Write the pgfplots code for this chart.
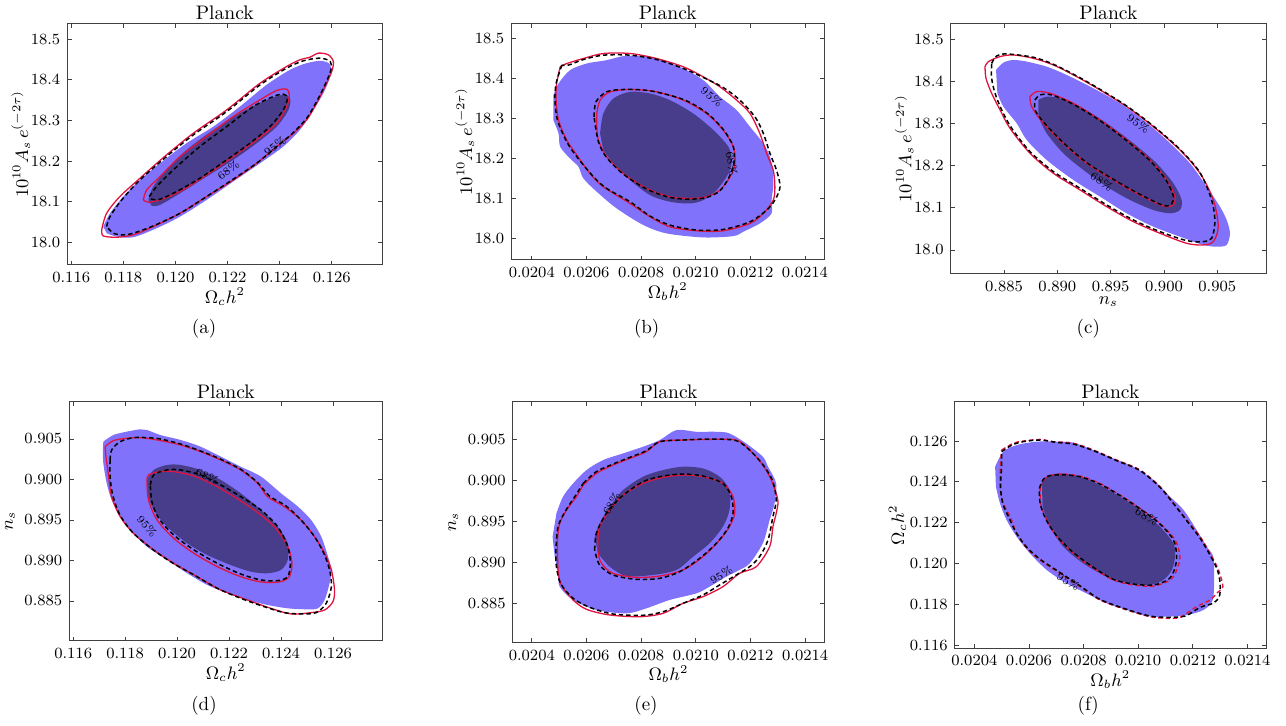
\documentclass[border=0pt]{standalone}
\usepackage{fontspec}
\usepackage{pgfplots}
\pgfplotsset{compat=1.18}

\definecolor{lightc}{RGB}{128,114,250}
\definecolor{darkc}{RGB}{72,61,139}
\definecolor{redc}{RGB}{225,20,65}

\tikzset{
  lf/.style={fill=lightc, draw=none, smooth, tension=0.5},
  df/.style={fill=darkc, draw=none, smooth, tension=0.5},
  rl/.style={draw=redc, line width=0.65pt, smooth, tension=0.5},
  bl/.style={draw=black, line width=0.75pt, dash pattern=on 2.2pt off 1.5pt, smooth, tension=0.5},
  rd/.style={draw=redc, line width=0.7pt, dash pattern=on 2.2pt off 1.5pt, smooth, tension=0.5},
  clab/.style={font=\fontsize{5.5}{6}\selectfont, inner sep=0pt},
  ttl/.style={font=\fontsize{9.8}{11}\selectfont, anchor=base},
  subcap/.style={font=\fontsize{9.5}{11}\selectfont, anchor=base},
}
\pgfplotsset{
  panel/.style={
    scale only axis, anchor=south west,
    scaled x ticks=false, scaled y ticks=false,
    tick align=inside, tick pos=both, major tick length=2.2pt,
    axis line style={black!75, line width=0.5pt},
    tick style={black!75, line width=0.4pt},
    tick label style={font=\fontsize{7.8}{9}\selectfont},
    label style={font=\fontsize{8.6}{10}\selectfont},
    xlabel style={yshift=4.5pt},
    ylabel style={yshift=-2pt},
  },
  aslab/.style={ylabel={$10^{10}A_s\,e^{(-2\tau)}$}, ylabel style={yshift=-4.5pt}},
}

\begin{document}
\begin{tikzpicture}
\useasboundingbox (0,0) rectangle (643pt,363pt);

% ---------------- (a)
\begin{axis}[panel, aslab, at={(33.65pt,230.5pt)}, width=157.5pt, height=120.85pt,
  xmin=0.11585, xmax=0.12794, ymin=17.944, ymax=18.539,
  xtick={0.116,0.118,0.120,0.122,0.124,0.126},
  xticklabels={0.116,0.118,0.120,0.122,0.124,0.126},
  ytick={18.0,18.1,18.2,18.3,18.4,18.5},
  yticklabels={18.0,18.1,18.2,18.3,18.4,18.5},
  xlabel={$\Omega_c h^2$}]
\addplot[lf] coordinates {(0.11723,18.0386)(0.11749,18.0714)(0.118,18.1125)(0.11864,18.1535)(0.11941,18.1946)(0.12043,18.2438)(0.12146,18.2849)(0.12248,18.3342)(0.12350,18.3875)(0.12440,18.4245)(0.12504,18.4409)(0.12562,18.4466)(0.12594,18.4368)(0.12594,18.4080)(0.12568,18.3670)(0.12530,18.3259)(0.12478,18.2767)(0.12414,18.2356)(0.12325,18.1946)(0.12222,18.1494)(0.12120,18.1043)(0.12018,18.0632)(0.11928,18.0345)(0.11838,18.0123)(0.11774,18.0140)(0.11736,18.0222)};
\addplot[df] coordinates {(0.11896,18.1043)(0.11915,18.1371)(0.11966,18.1782)(0.12043,18.2274)(0.12146,18.2767)(0.12248,18.3177)(0.12350,18.3506)(0.12414,18.3629)(0.12440,18.3547)(0.12434,18.3259)(0.12389,18.2849)(0.12312,18.2438)(0.12222,18.2028)(0.12120,18.1617)(0.12018,18.1207)(0.11941,18.0920)(0.11909,18.0895)};
\addplot[rl] coordinates {(0.11717,18.0304)(0.11736,18.0714)(0.11787,18.1125)(0.11864,18.1576)(0.11966,18.2151)(0.12069,18.2685)(0.12197,18.3259)(0.12325,18.3916)(0.12427,18.4327)(0.12478,18.4491)(0.12517,18.4557)(0.12549,18.4655)(0.12587,18.4614)(0.12606,18.4450)(0.12600,18.4204)(0.12574,18.3834)(0.12542,18.3424)(0.12504,18.3013)(0.12453,18.2685)(0.12389,18.2356)(0.12312,18.1946)(0.12222,18.1535)(0.12120,18.1125)(0.12018,18.0714)(0.11915,18.0386)(0.11838,18.0181)(0.11774,18.0123)(0.11723,18.0156)(0.11717,18.0304)};
\addplot[rl] coordinates {(0.11877,18.1043)(0.11890,18.1289)(0.11941,18.1617)(0.12018,18.2110)(0.12120,18.2603)(0.12222,18.3095)(0.12325,18.3506)(0.12389,18.3736)(0.12427,18.3768)(0.12437,18.3629)(0.12427,18.3342)(0.12389,18.2931)(0.12312,18.2521)(0.12222,18.2110)(0.12120,18.1658)(0.12018,18.1248)(0.11941,18.1043)(0.11896,18.0985)(0.11877,18.1043)};
\addplot[bl] coordinates {(0.11736,18.0386)(0.11749,18.0632)(0.11794,18.1043)(0.11864,18.1535)(0.11966,18.2110)(0.12069,18.2644)(0.12197,18.3218)(0.12325,18.3875)(0.12427,18.4286)(0.12491,18.4466)(0.12555,18.4532)(0.12594,18.4450)(0.12597,18.4245)(0.12574,18.3875)(0.12542,18.3465)(0.12504,18.3054)(0.12453,18.2701)(0.12389,18.2356)(0.12312,18.1946)(0.12222,18.1552)(0.12120,18.1125)(0.12018,18.0714)(0.11915,18.0402)(0.11838,18.0222)(0.11800,18.0181)(0.11762,18.0222)(0.11736,18.0386)};
\addplot[bl] coordinates {(0.11900,18.1125)(0.11928,18.1371)(0.11992,18.1782)(0.12094,18.2356)(0.12197,18.2849)(0.12299,18.3342)(0.12376,18.3588)(0.12414,18.3645)(0.12430,18.3547)(0.12414,18.3259)(0.12363,18.2849)(0.12286,18.2438)(0.12197,18.2028)(0.12094,18.1576)(0.12005,18.1248)(0.11941,18.1059)(0.11909,18.1059)(0.11900,18.1125)};
\node[clab, rotate=37] at (axis cs:0.12203,18.178) {68\%};
\node[clab, rotate=37] at (axis cs:0.12382,18.2356) {95\%};
\end{axis}

% ---------------- (b)
\begin{axis}[panel, aslab, at={(255.65pt,233pt)}, width=156.5pt, height=118.35pt,
  xmin=0.020325, xmax=0.021471, ymin=17.946, ymax=18.539,
  xtick={0.0204,0.0206,0.0208,0.0210,0.0212,0.0214},
  xticklabels={0.0204,0.0206,0.0208,0.0210,0.0212,0.0214},
  ytick={18.0,18.1,18.2,18.3,18.4,18.5},
  yticklabels={18.0,18.1,18.2,18.3,18.4,18.5},
  xlabel={$\Omega_b h^2$}]
\addplot[lf] coordinates {(0.020479,18.3589)(0.020498,18.3881)(0.020540,18.4215)(0.020601,18.4382)(0.020674,18.4466)(0.020735,18.4566)(0.020809,18.4566)(0.020882,18.4449)(0.020955,18.4257)(0.021028,18.3965)(0.021089,18.3548)(0.021150,18.3214)(0.021199,18.2796)(0.021248,18.2379)(0.021272,18.2045)(0.021284,18.1628)(0.021284,18.1294)(0.021278,18.0960)(0.021278,18.0626)(0.021235,18.0376)(0.021174,18.0167)(0.021138,18.0058)(0.021028,18.0025)(0.020894,18.0125)(0.020809,18.0334)(0.020711,18.0751)(0.020638,18.1169)(0.020589,18.1503)(0.020571,18.1795)(0.020540,18.2003)(0.020504,18.2295)(0.020498,18.2629)(0.020479,18.2963)};
\addplot[df] coordinates {(0.020650,18.2629)(0.020662,18.3130)(0.020699,18.3506)(0.020760,18.3673)(0.020833,18.3631)(0.020906,18.3464)(0.020991,18.3130)(0.021065,18.2713)(0.021120,18.2295)(0.021132,18.1962)(0.021120,18.1628)(0.021077,18.1210)(0.021028,18.0960)(0.020979,18.0876)(0.020906,18.0918)(0.020833,18.1085)(0.020760,18.1461)(0.020699,18.1878)(0.020662,18.2212)};
\addplot[rl] coordinates {(0.020504,18.4299)(0.020491,18.3881)(0.020489,18.3464)(0.020498,18.2963)(0.020528,18.2462)(0.020565,18.2087)(0.020613,18.1628)(0.020662,18.1294)(0.020760,18.0876)(0.020833,18.0543)(0.020906,18.0292)(0.021004,18.0192)(0.021101,18.0192)(0.021199,18.0376)(0.021248,18.0626)(0.021284,18.0960)(0.021290,18.1294)(0.021284,18.1711)(0.021260,18.2129)(0.021235,18.2629)(0.021199,18.3130)(0.021150,18.3464)(0.021089,18.3798)(0.021028,18.4048)(0.020955,18.4299)(0.020857,18.4508)(0.020760,18.4633)(0.020662,18.4633)(0.020589,18.4508)(0.020528,18.4382)(0.020504,18.4299)};
\addplot[rl] coordinates {(0.020638,18.3130)(0.020650,18.3464)(0.020687,18.3673)(0.020760,18.3731)(0.020857,18.3673)(0.020955,18.3464)(0.021040,18.3130)(0.021101,18.2713)(0.021138,18.2295)(0.021144,18.1878)(0.021126,18.1544)(0.021089,18.1210)(0.021040,18.1043)(0.020979,18.1002)(0.020906,18.1043)(0.020821,18.1252)(0.020735,18.1628)(0.020674,18.2045)(0.020644,18.2462)(0.020638,18.2796)(0.020638,18.3130)};
\addplot[bl] coordinates {(0.020510,18.4341)(0.020489,18.3881)(0.020485,18.3464)(0.020494,18.2963)(0.020528,18.2421)(0.020565,18.2045)(0.020626,18.1544)(0.020674,18.1252)(0.020760,18.0918)(0.020833,18.0559)(0.020906,18.0334)(0.021004,18.0209)(0.021101,18.0225)(0.021199,18.0417)(0.021260,18.0710)(0.021290,18.0960)(0.021309,18.1294)(0.021296,18.1711)(0.021272,18.2129)(0.021248,18.2629)(0.021217,18.3047)(0.021162,18.3464)(0.021101,18.3781)(0.021028,18.4032)(0.020955,18.4257)(0.020857,18.4482)(0.020760,18.4591)(0.020662,18.4591)(0.020589,18.4482)(0.020534,18.4341)(0.020510,18.4341)};
\addplot[bl] coordinates {(0.020628,18.3047)(0.020635,18.3422)(0.020674,18.3673)(0.020735,18.3731)(0.020833,18.3698)(0.020955,18.3481)(0.021040,18.3147)(0.021101,18.2730)(0.021138,18.2295)(0.021140,18.1878)(0.021123,18.1544)(0.021089,18.1194)(0.021040,18.1027)(0.020979,18.0985)(0.020906,18.1027)(0.020821,18.1235)(0.020735,18.1611)(0.020674,18.2028)(0.020644,18.2421)(0.020628,18.3047)};
\node[clab, rotate=-40] at (axis cs:0.021059,18.3548) {95\%};
\node[clab, rotate=-80] at (axis cs:0.021132,18.1878) {68\%};
\end{axis}

% ---------------- (c)
\begin{axis}[panel, aslab, at={(475.35pt,226pt)}, width=157.65pt, height=125.35pt,
  xmin=0.880, xmax=0.90957, ymin=17.943, ymax=18.538,
  xtick={0.885,0.890,0.895,0.900,0.905},
  xticklabels={0.885,0.890,0.895,0.900,0.905},
  ytick={18.0,18.1,18.2,18.3,18.4,18.5},
  yticklabels={18.0,18.1,18.2,18.3,18.4,18.5},
  xlabel={$n_s$}]
\addplot[lf] coordinates {(0.88425,18.4272)(0.88494,18.4446)(0.88588,18.4509)(0.88713,18.4470)(0.88900,18.4351)(0.89088,18.4153)(0.89338,18.3837)(0.89588,18.3481)(0.89806,18.3085)(0.90025,18.2611)(0.90244,18.2057)(0.90400,18.1503)(0.90525,18.1028)(0.90588,18.0712)(0.90619,18.0396)(0.90588,18.0119)(0.90494,18.0079)(0.90369,18.0119)(0.90150,18.0316)(0.89900,18.0554)(0.89650,18.0870)(0.89400,18.1266)(0.89150,18.1661)(0.88900,18.2136)(0.88713,18.2611)(0.88619,18.3006)(0.88494,18.3402)(0.88438,18.3718)};
\addplot[df] coordinates {(0.88822,18.3560)(0.88900,18.3639)(0.89025,18.3600)(0.89213,18.3402)(0.89463,18.3006)(0.89713,18.2532)(0.89931,18.2057)(0.90088,18.1582)(0.90166,18.1187)(0.90150,18.0949)(0.90056,18.0870)(0.89900,18.0949)(0.89681,18.1187)(0.89463,18.1503)(0.89244,18.1899)(0.89056,18.2294)(0.88900,18.2769)(0.88822,18.3165)};
\addplot[rl] coordinates {(0.88322,18.4351)(0.88353,18.4470)(0.88463,18.4589)(0.88588,18.4628)(0.88775,18.4549)(0.88963,18.4391)(0.89181,18.4114)(0.89400,18.3797)(0.89650,18.3402)(0.89900,18.2927)(0.90150,18.2373)(0.90338,18.1820)(0.90463,18.1187)(0.90509,18.0554)(0.90463,18.0198)(0.90369,18.0119)(0.90213,18.0158)(0.89963,18.0396)(0.89713,18.0672)(0.89463,18.1028)(0.89213,18.1424)(0.88963,18.1820)(0.88744,18.2294)(0.88556,18.2888)(0.88463,18.3323)(0.88384,18.3718)(0.88331,18.4074)(0.88322,18.4351)};
\addplot[rl] coordinates {(0.88744,18.3639)(0.88806,18.3758)(0.88931,18.3718)(0.89150,18.3481)(0.89400,18.3085)(0.89650,18.2611)(0.89869,18.2136)(0.90025,18.1661)(0.90103,18.1266)(0.90088,18.1068)(0.90025,18.1028)(0.89931,18.1108)(0.89744,18.1345)(0.89525,18.1661)(0.89275,18.2057)(0.89056,18.2532)(0.88869,18.3006)(0.88759,18.3402)(0.88744,18.3639)};
\addplot[bl] coordinates {(0.88384,18.4430)(0.88431,18.4604)(0.88525,18.4652)(0.88775,18.4573)(0.88963,18.4407)(0.89181,18.4130)(0.89400,18.3813)(0.89650,18.3418)(0.89900,18.2943)(0.90150,18.2389)(0.90338,18.1835)(0.90447,18.1187)(0.90478,18.0672)(0.90447,18.0277)(0.90369,18.0198)(0.90213,18.0222)(0.89963,18.0435)(0.89713,18.0712)(0.89463,18.1068)(0.89213,18.1464)(0.88963,18.1859)(0.88744,18.2334)(0.88572,18.2888)(0.88478,18.3323)(0.88416,18.3718)(0.88384,18.4074)(0.88384,18.4430)};
\addplot[bl] coordinates {(0.88791,18.3560)(0.88838,18.3679)(0.88947,18.3679)(0.89150,18.3457)(0.89400,18.3070)(0.89650,18.2595)(0.89869,18.2120)(0.90019,18.1661)(0.90088,18.1282)(0.90072,18.1092)(0.90019,18.1044)(0.89931,18.1123)(0.89744,18.1361)(0.89525,18.1677)(0.89275,18.2073)(0.89056,18.2547)(0.88875,18.3022)(0.88791,18.3323)(0.88791,18.3560)};
\node[clab, rotate=-35] at (axis cs:0.89759,18.3006) {95\%};
\node[clab, rotate=-35] at (axis cs:0.89416,18.1622) {68\%};
\end{axis}

% ---------------- (d)
\begin{axis}[panel, at={(34.65pt,42.5pt)}, width=156.5pt, height=119.65pt,
  xmin=0.11585, xmax=0.1279, ymin=0.88006, ymax=0.9096,
  xtick={0.116,0.118,0.120,0.122,0.124,0.126},
  xticklabels={0.116,0.118,0.120,0.122,0.124,0.126},
  ytick={0.885,0.890,0.895,0.900,0.905},
  yticklabels={0.885,0.890,0.895,0.900,0.905},
  xlabel={$\Omega_c h^2$}, ylabel={$n_s$}]
\addplot[lf] coordinates {(0.11716,0.90467)(0.11755,0.90549)(0.11806,0.90590)(0.11858,0.90619)(0.11884,0.90611)(0.11935,0.90549)(0.12013,0.90488)(0.12090,0.90405)(0.12168,0.90282)(0.12245,0.90158)(0.12323,0.90035)(0.12400,0.89829)(0.12465,0.89665)(0.12516,0.89500)(0.12555,0.89294)(0.12581,0.89047)(0.12594,0.88883)(0.12587,0.88718)(0.12568,0.88512)(0.12542,0.88409)(0.12503,0.88397)(0.12426,0.88409)(0.12348,0.88451)(0.12271,0.88512)(0.12194,0.88595)(0.12116,0.88698)(0.12039,0.88842)(0.11961,0.89006)(0.11884,0.89171)(0.11819,0.89377)(0.11781,0.89541)(0.11748,0.89747)(0.11729,0.89953)(0.11716,0.90199)(0.11714,0.90364)};
\addplot[df] coordinates {(0.11884,0.89994)(0.11910,0.90117)(0.11961,0.90179)(0.12013,0.90179)(0.12090,0.90117)(0.12168,0.89994)(0.12245,0.89829)(0.12323,0.89623)(0.12387,0.89418)(0.12426,0.89212)(0.12426,0.89006)(0.12400,0.88883)(0.12348,0.88842)(0.12284,0.88862)(0.12206,0.88944)(0.12116,0.89068)(0.12039,0.89212)(0.11961,0.89418)(0.11910,0.89623)(0.11884,0.89829)};
\addplot[rl] coordinates {(0.11723,0.90405)(0.11755,0.90479)(0.11806,0.90508)(0.11858,0.90516)(0.11923,0.90488)(0.12013,0.90426)(0.12090,0.90344)(0.12168,0.90241)(0.12245,0.90117)(0.12310,0.89953)(0.12348,0.89788)(0.12413,0.89665)(0.12477,0.89500)(0.12529,0.89294)(0.12568,0.89088)(0.12594,0.88883)(0.12606,0.88636)(0.12600,0.88492)(0.12568,0.88389)(0.12516,0.88356)(0.12439,0.88340)(0.12361,0.88409)(0.12271,0.88512)(0.12168,0.88636)(0.12077,0.88800)(0.11987,0.88965)(0.11910,0.89130)(0.11832,0.89335)(0.11781,0.89541)(0.11748,0.89788)(0.11735,0.90076)(0.11726,0.90282)(0.11723,0.90405)};
\addplot[rl] coordinates {(0.11884,0.89994)(0.11890,0.90056)(0.11935,0.90097)(0.11987,0.90097)(0.12065,0.90043)(0.12142,0.89932)(0.12219,0.89788)(0.12297,0.89623)(0.12374,0.89418)(0.12426,0.89171)(0.12442,0.88965)(0.12432,0.88800)(0.12394,0.88735)(0.12323,0.88735)(0.12245,0.88800)(0.12155,0.88924)(0.12065,0.89088)(0.11987,0.89274)(0.11923,0.89500)(0.11890,0.89747)(0.11884,0.89994)};
\addplot[bl] coordinates {(0.11742,0.90241)(0.11748,0.90364)(0.11781,0.90467)(0.11832,0.90516)(0.11884,0.90516)(0.11935,0.90500)(0.12013,0.90438)(0.12090,0.90352)(0.12168,0.90249)(0.12245,0.90125)(0.12310,0.89961)(0.12355,0.89796)(0.12419,0.89673)(0.12477,0.89500)(0.12529,0.89294)(0.12565,0.89088)(0.12587,0.88883)(0.12594,0.88677)(0.12574,0.88471)(0.12535,0.88356)(0.12477,0.88340)(0.12413,0.88356)(0.12335,0.88430)(0.12245,0.88533)(0.12155,0.88656)(0.12065,0.88821)(0.11974,0.88986)(0.11897,0.89158)(0.11826,0.89356)(0.11778,0.89574)(0.11752,0.89809)(0.11742,0.90035)(0.11742,0.90241)};
\addplot[bl] coordinates {(0.11897,0.89932)(0.11910,0.90056)(0.11961,0.90117)(0.12013,0.90117)(0.12090,0.90056)(0.12168,0.89932)(0.12245,0.89788)(0.12323,0.89623)(0.12387,0.89418)(0.12426,0.89171)(0.12436,0.88965)(0.12426,0.88800)(0.12387,0.88751)(0.12323,0.88759)(0.12245,0.88833)(0.12155,0.88965)(0.12065,0.89130)(0.11987,0.89315)(0.11929,0.89521)(0.11903,0.89726)(0.11897,0.89932)};
\node[clab, rotate=-25] at (axis cs:0.12116,0.90035) {68\%};
\node[clab, rotate=-50] at (axis cs:0.11884,0.89418) {95\%};
\end{axis}

% ---------------- (e)
\begin{axis}[panel, at={(256.35pt,41.65pt)}, width=155.8pt, height=120.5pt,
  xmin=0.02033, xmax=0.02147, ymin=0.8802, ymax=0.9096,
  xtick={0.0204,0.0206,0.0208,0.0210,0.0212,0.0214},
  xticklabels={0.0204,0.0206,0.0208,0.0210,0.0212,0.0214},
  ytick={0.885,0.890,0.895,0.900,0.905},
  yticklabels={0.885,0.890,0.895,0.900,0.905},
  xlabel={$\Omega_b h^2$}, ylabel={$n_s$}]
\addplot[lf] coordinates {(0.020490,0.89598)(0.020514,0.89801)(0.020551,0.89963)(0.020600,0.90126)(0.020661,0.90248)(0.020734,0.90329)(0.020807,0.90411)(0.020868,0.90492)(0.020929,0.90614)(0.021002,0.90593)(0.021075,0.90593)(0.021123,0.90573)(0.021184,0.90451)(0.021245,0.90289)(0.021264,0.90167)(0.021294,0.89963)(0.021288,0.89720)(0.021270,0.89516)(0.021245,0.89232)(0.021197,0.88988)(0.021160,0.88907)(0.021111,0.88825)(0.021050,0.88703)(0.021002,0.88622)(0.020904,0.88541)(0.020819,0.88439)(0.020746,0.88378)(0.020636,0.88419)(0.020551,0.88541)(0.020502,0.88703)(0.020496,0.88866)(0.020484,0.89069)(0.020476,0.89313)};
\addplot[df] coordinates {(0.020630,0.89313)(0.020648,0.89476)(0.020685,0.89679)(0.020734,0.89882)(0.020807,0.90045)(0.020880,0.90126)(0.020953,0.90167)(0.021026,0.90146)(0.021087,0.90045)(0.021123,0.89882)(0.021123,0.89638)(0.021099,0.89435)(0.021050,0.89232)(0.020990,0.89069)(0.020929,0.88907)(0.020843,0.88846)(0.020746,0.88833)(0.020685,0.88947)(0.020642,0.89110)};
\addplot[rl] coordinates {(0.020588,0.89943)(0.020636,0.90085)(0.020697,0.90187)(0.020758,0.90268)(0.020819,0.90350)(0.020868,0.90472)(0.020953,0.90492)(0.021050,0.90500)(0.021148,0.90492)(0.021197,0.90370)(0.021245,0.90187)(0.021276,0.90004)(0.021300,0.89760)(0.021294,0.89598)(0.021282,0.89435)(0.021270,0.89191)(0.021221,0.88947)(0.021160,0.88866)(0.021099,0.88703)(0.021026,0.88581)(0.020953,0.88500)(0.020880,0.88378)(0.020795,0.88337)(0.020685,0.88358)(0.020600,0.88427)(0.020551,0.88541)(0.020508,0.88724)(0.020496,0.88907)(0.020494,0.89272)(0.020502,0.89476)(0.020527,0.89638)(0.020563,0.89801)(0.020588,0.89943)};
\addplot[rl] coordinates {(0.020642,0.89272)(0.020648,0.89435)(0.020685,0.89638)(0.020734,0.89821)(0.020807,0.89963)(0.020880,0.90037)(0.020953,0.90065)(0.021026,0.90045)(0.021099,0.89963)(0.021136,0.89801)(0.021142,0.89598)(0.021123,0.89435)(0.021087,0.89272)(0.021026,0.89069)(0.020953,0.88907)(0.020868,0.88833)(0.020782,0.88817)(0.020697,0.88866)(0.020655,0.88988)(0.020642,0.89130)(0.020642,0.89272)};
\addplot[bl] coordinates {(0.020588,0.89963)(0.020636,0.90106)(0.020697,0.90199)(0.020758,0.90280)(0.020819,0.90362)(0.020868,0.90472)(0.020953,0.90492)(0.021050,0.90504)(0.021148,0.90484)(0.021203,0.90350)(0.021251,0.90167)(0.021282,0.89984)(0.021294,0.89760)(0.021282,0.89557)(0.021264,0.89272)(0.021233,0.89069)(0.021197,0.88947)(0.021148,0.88846)(0.021087,0.88724)(0.021026,0.88602)(0.020953,0.88500)(0.020880,0.88398)(0.020807,0.88354)(0.020697,0.88370)(0.020612,0.88451)(0.020551,0.88561)(0.020505,0.88744)(0.020490,0.88947)(0.020488,0.89130)(0.020496,0.89435)(0.020525,0.89638)(0.020561,0.89821)(0.020588,0.89963)};
\addplot[bl] coordinates {(0.020630,0.89150)(0.020636,0.89354)(0.020673,0.89598)(0.020728,0.89801)(0.020807,0.89984)(0.020880,0.90053)(0.020953,0.90077)(0.021026,0.90053)(0.021099,0.89963)(0.021130,0.89801)(0.021136,0.89598)(0.021117,0.89415)(0.021075,0.89232)(0.021014,0.89049)(0.020941,0.88886)(0.020868,0.88805)(0.020782,0.88793)(0.020697,0.88846)(0.020648,0.88967)(0.020630,0.89150)};
\node[clab, rotate=60] at (axis cs:0.020691,0.89720) {68\%};
\node[clab, rotate=30] at (axis cs:0.021093,0.88846) {95\%};
\end{axis}

% ---------------- (f)
\begin{axis}[panel, at={(477.35pt,38.85pt)}, width=155.65pt, height=123.3pt,
  xmin=0.020328, xmax=0.021468, ymin=0.11584, ymax=0.12793,
  xtick={0.0204,0.0206,0.0208,0.0210,0.0212,0.0214},
  xticklabels={0.0204,0.0206,0.0208,0.0210,0.0212,0.0214},
  ytick={0.116,0.118,0.120,0.122,0.124,0.126},
  yticklabels={0.116,0.118,0.120,0.122,0.124,0.126},
  xlabel={$\Omega_b h^2$}, ylabel={$\Omega_c h^2$}, ylabel style={yshift=-3pt}]
\addplot[lf] coordinates {(0.020476,0.12474)(0.020506,0.12548)(0.020555,0.12580)(0.020628,0.12597)(0.020714,0.12597)(0.020763,0.12592)(0.020836,0.12556)(0.020909,0.12515)(0.020982,0.12474)(0.021056,0.12409)(0.021117,0.12327)(0.021166,0.12262)(0.021214,0.12164)(0.021251,0.12082)(0.021275,0.12033)(0.021278,0.11935)(0.021273,0.11821)(0.021239,0.11772)(0.021178,0.11747)(0.021105,0.11739)(0.021031,0.11742)(0.020958,0.11772)(0.020885,0.11804)(0.020811,0.11853)(0.020738,0.11902)(0.020665,0.11968)(0.020604,0.12049)(0.020555,0.12131)(0.020518,0.12213)(0.020494,0.12294)(0.020479,0.12376)};
\addplot[df] coordinates {(0.020647,0.12392)(0.020665,0.12425)(0.020714,0.12442)(0.020787,0.12425)(0.020860,0.12384)(0.020934,0.12327)(0.021007,0.12262)(0.021080,0.12180)(0.021129,0.12098)(0.021135,0.12033)(0.021123,0.11968)(0.021092,0.11919)(0.021043,0.11894)(0.020970,0.11902)(0.020885,0.11935)(0.020799,0.12000)(0.020726,0.12082)(0.020677,0.12180)(0.020650,0.12278)};
\addplot[rd] coordinates {(0.020500,0.12556)(0.020543,0.12589)(0.020579,0.12600)(0.020641,0.12608)(0.020689,0.12597)(0.020763,0.12589)(0.020836,0.12556)(0.020921,0.12507)(0.021007,0.12458)(0.021080,0.12376)(0.021129,0.12294)(0.021178,0.12213)(0.021227,0.12131)(0.021263,0.12049)(0.021294,0.11968)(0.021310,0.11886)(0.021290,0.11857)(0.021263,0.11821)(0.021214,0.11788)(0.021153,0.11736)(0.021105,0.11731)(0.021043,0.11739)(0.020958,0.11772)(0.020860,0.11821)(0.020787,0.11886)(0.020714,0.11951)(0.020641,0.12017)(0.020592,0.12074)(0.020555,0.12147)(0.020531,0.12229)(0.020506,0.12294)(0.020494,0.12376)(0.020496,0.12491)(0.020500,0.12556)};
\addplot[rd] coordinates {(0.020641,0.12376)(0.020665,0.12425)(0.020714,0.12438)(0.020787,0.12428)(0.020860,0.12392)(0.020934,0.12335)(0.021007,0.12270)(0.021080,0.12196)(0.021135,0.12115)(0.021153,0.12033)(0.021141,0.11968)(0.021117,0.11919)(0.021056,0.11889)(0.020982,0.11894)(0.020909,0.11919)(0.020836,0.11976)(0.020763,0.12049)(0.020702,0.12131)(0.020665,0.12213)(0.020643,0.12294)(0.020641,0.12376)};
\addplot[bl] coordinates {(0.020500,0.12548)(0.020537,0.12580)(0.020579,0.12597)(0.020641,0.12605)(0.020702,0.12593)(0.020763,0.12585)(0.020836,0.12553)(0.020921,0.12504)(0.021007,0.12455)(0.021080,0.12373)(0.021129,0.12294)(0.021178,0.12209)(0.021227,0.12123)(0.021263,0.12041)(0.021290,0.11968)(0.021300,0.11902)(0.021297,0.11837)(0.021273,0.11804)(0.021227,0.11785)(0.021172,0.11742)(0.021105,0.11736)(0.021043,0.11742)(0.020958,0.11775)(0.020860,0.11824)(0.020787,0.11890)(0.020714,0.11955)(0.020641,0.12020)(0.020592,0.12079)(0.020553,0.12151)(0.020525,0.12229)(0.020504,0.12294)(0.020496,0.12376)(0.020500,0.12482)(0.020500,0.12548)};
\addplot[bl] coordinates {(0.020638,0.12368)(0.020659,0.12422)(0.020714,0.12435)(0.020787,0.12425)(0.020860,0.12389)(0.020934,0.12332)(0.021007,0.12267)(0.021080,0.12193)(0.021129,0.12115)(0.021141,0.12033)(0.021132,0.11968)(0.021111,0.11922)(0.021056,0.11894)(0.020982,0.11899)(0.020909,0.11922)(0.020836,0.11981)(0.020763,0.12053)(0.020702,0.12134)(0.020662,0.12216)(0.020641,0.12294)(0.020638,0.12368)};
\node[clab, rotate=-30] at (axis cs:0.021031,0.12229) {68\%};
\node[clab, rotate=-30] at (axis cs:0.020744,0.11910) {95\%};
\end{axis}

% titles and captions
\node[ttl] at (112.4pt,353pt) {Planck};
\node[ttl] at (333.9pt,353pt) {Planck};
\node[ttl] at (554.2pt,353pt) {Planck};
\node[ttl] at (112.9pt,163.85pt) {Planck};
\node[ttl] at (334.25pt,163.85pt) {Planck};
\node[ttl] at (555.2pt,163.85pt) {Planck};
\node[subcap] at (102pt,196.35pt) {(a)};
\node[subcap] at (323.35pt,196.35pt) {(b)};
\node[subcap] at (544.15pt,196.35pt) {(c)};
\node[subcap] at (102pt,7.5pt) {(d)};
\node[subcap] at (323pt,7.5pt) {(e)};
\node[subcap] at (544.15pt,7.5pt) {(f)};
\end{tikzpicture}
\end{document}
